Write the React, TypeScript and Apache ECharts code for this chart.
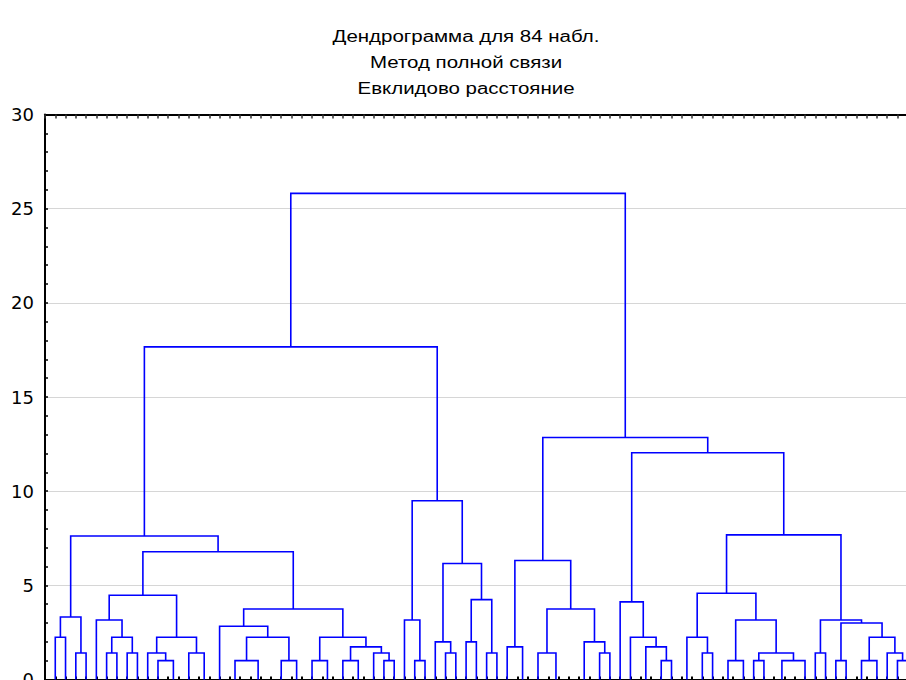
import { useEffect, useRef } from "react";
import * as echarts from "echarts";

const titleLines = ["Дендрограмма для 84 набл.", "Метод полной связи", "Евклидово расстояние"];
const leafCount = 84;
const yMin = 0;
const yMax = 30;
const yStep = 5;

// Linkage: [left, right, height].
// A number is a leaf position (1..84), "mN" refers to the N-th merge in this list.
const merges: [number | string, number | string, number][] = [
  [1, 2, 2.24], // m0
  [3, 4, 1.41], // m1
  ["m0", "m1", 3.32], // m2
  [6, 7, 1.41], // m3
  [8, 9, 1.41], // m4
  ["m3", "m4", 2.24], // m5
  [5, "m5", 3.16], // m6
  [12, 13, 0], // m7
  [11, "m7", 1.0], // m8
  [10, "m8", 1.41], // m9
  [15, 16, 0], // m10
  [14, "m10", 1.41], // m11
  ["m9", "m11", 2.24], // m12
  ["m6", "m12", 4.47], // m13
  [18, 19, 0], // m14
  [21, 22, 0], // m15
  [20, "m15", 0], // m16
  ["m14", "m16", 1.0], // m17
  [24, 25, 0], // m18
  [23, "m18", 1.0], // m19
  ["m17", "m19", 2.24], // m20
  [17, "m20", 2.83], // m21
  [27, 28, 0], // m22
  [26, "m22", 1.0], // m23
  [30, 31, 0], // m24
  [29, "m24", 1.0], // m25
  [33, 34, 1.0], // m26
  [32, "m26", 1.41], // m27
  ["m25", "m27", 1.73], // m28
  ["m23", "m28", 2.24], // m29
  ["m21", "m29", 3.74], // m30
  ["m13", "m30", 6.78], // m31
  ["m2", "m31", 7.62], // m32
  [36, 37, 1.0], // m33
  [35, "m33", 3.16], // m34
  [39, 40, 1.41], // m35
  [38, "m35", 2.0], // m36
  [41, 42, 2.0], // m37
  [43, 44, 1.41], // m38
  ["m37", "m38", 4.24], // m39
  ["m36", "m39", 6.16], // m40
  ["m34", "m40", 9.49], // m41
  ["m32", "m41", 17.66], // m42
  [46, 47, 0], // m43
  [45, "m43", 1.73], // m44
  [50, 51, 0], // m45
  [49, "m45", 0], // m46
  [48, "m46", 1.41], // m47
  [52, 53, 0], // m48
  [54, 55, 1.41], // m49
  ["m48", "m49", 2.0], // m50
  ["m47", "m50", 3.74], // m51
  ["m44", "m51", 6.32], // m52
  [58, 59, 0], // m53
  [60, 61, 1.0], // m54
  ["m53", "m54", 1.73], // m55
  [57, "m55", 2.24], // m56
  [56, "m56", 4.12], // m57
  [62, 63, 0], // m58
  [64, 65, 1.41], // m59
  ["m58", "m59", 2.24], // m60
  [66, 67, 0], // m61
  ["m61", 68, 1.0], // m62
  [69, 70, 1.0], // m63
  [72, 73, 0], // m64
  [71, "m64", 0], // m65
  ["m65", 74, 1.0], // m66
  ["m63", "m66", 1.41], // m67
  ["m62", "m67", 3.16], // m68
  ["m60", "m68", 4.58], // m69
  [75, 76, 1.41], // m70
  [77, 78, 1.0], // m71
  [79, 80, 0], // m72
  ["m72", 81, 1.0], // m73
  [83, 84, 1.0], // m74
  [82, "m74", 1.41], // m75
  ["m73", "m75", 2.24], // m76
  ["m71", "m76", 3.0], // m77
  ["m70", "m77", 3.16], // m78
  ["m69", "m78", 7.68], // m79
  ["m57", "m79", 12.04], // m80
  ["m52", "m80", 12.85], // m81
  ["m42", "m81", 25.81], // m82
];

function buildSegments(): number[][] {
  const nodeX: number[] = [];
  const nodeH: number[] = [];
  const pos = (ref: number | string): [number, number] => {
    if (typeof ref === "number") return [ref, 0];
    const i = parseInt(ref.slice(1), 10);
    return [nodeX[i], nodeH[i]];
  };
  return merges.map(([a, b, h], i) => {
    const [xa, ha] = pos(a);
    const [xb, hb] = pos(b);
    nodeX[i] = (xa + xb) / 2;
    nodeH[i] = h;
    return [xa, ha, xb, hb, h];
  });
}

export default function App() {
  const ref = useRef<HTMLDivElement>(null);
  useEffect(() => {
    if (!ref.current) return;
    const chart = echarts.init(ref.current, undefined, { renderer: "svg" });
    const segments = buildSegments();
    const font = "Arial, 'Liberation Sans', sans-serif";
    const xAxisBase = {
      type: "value",
      min: 0,
      max: leafCount + 1,
      interval: 1,
      axisLabel: { show: false },
      splitLine: { show: false },
    };
    chart.setOption({
      animation: false,
      backgroundColor: "#ffffff",
      grid: {
        left: 45,
        top: 114.5,
        width: 873,
        height: 565,
        containLabel: false,
        outerBoundsMode: "none",
      },
      graphic: titleLines.map((t, i) => ({
        type: "text",
        x: 466,
        y: 36 + i * 26,
        scaleX: 1.28,
        style: {
          text: t,
          fill: "#000",
          fontSize: 16,
          fontFamily: font,
          textAlign: "center",
          textVerticalAlign: "middle",
          align: "center",
          verticalAlign: "middle",
        },
      })),
      xAxis: [
        {
          ...xAxisBase,
          position: "bottom",
          axisLine: { show: true, onZero: false, lineStyle: { color: "#000", width: 2 } },
          axisTick: { show: true, inside: true, length: 3, lineStyle: { color: "#000", width: 2 } },
        },
        {
          ...xAxisBase,
          position: "top",
          axisLine: { show: true, onZero: false, lineStyle: { color: "#000", width: 2 } },
          axisTick: { show: true, inside: true, length: 4, lineStyle: { color: "#333", width: 1.5 } },
        },
      ],
      yAxis: {
        type: "value",
        min: yMin,
        max: yMax,
        interval: yStep,
        axisLine: { show: true, lineStyle: { color: "#000", width: 2 } },
        axisTick: { show: true, inside: true, length: 3, lineStyle: { color: "#000", width: 1.5 } },
        minorTick: { show: true, splitNumber: 5, length: 3, lineStyle: { color: "#000", width: 1.5 } },
        axisLabel: { color: "#000", fontSize: 18, fontFamily: "'DejaVu Sans', sans-serif", margin: 11 },
        splitLine: { show: true, lineStyle: { color: "#d6d6d6", width: 1 } },
      },
      series: [
        {
          type: "custom",
          xAxisIndex: 0,
          data: segments,
          encode: { x: [0, 2], y: [1, 3, 4] },
          renderItem: (_params: any, api: any) => {
            const xa = api.value(0);
            const ha = api.value(1);
            const xb = api.value(2);
            const hb = api.value(3);
            const h = api.value(4);
            if (h <= 0) return { type: "group", children: [] };
            const points = [
              api.coord([xa, ha]),
              api.coord([xa, h]),
              api.coord([xb, h]),
              api.coord([xb, hb]),
            ];
            return {
              type: "polyline",
              shape: { points },
              style: { stroke: "#0000ff", lineWidth: 1.6, fill: null },
            };
          },
        },
      ],
    });
    return () => chart.dispose();
  }, []);
  return <div ref={ref} style={{ position: "fixed", left: 0, top: 0, width: 906, height: 680 }} />;
}
